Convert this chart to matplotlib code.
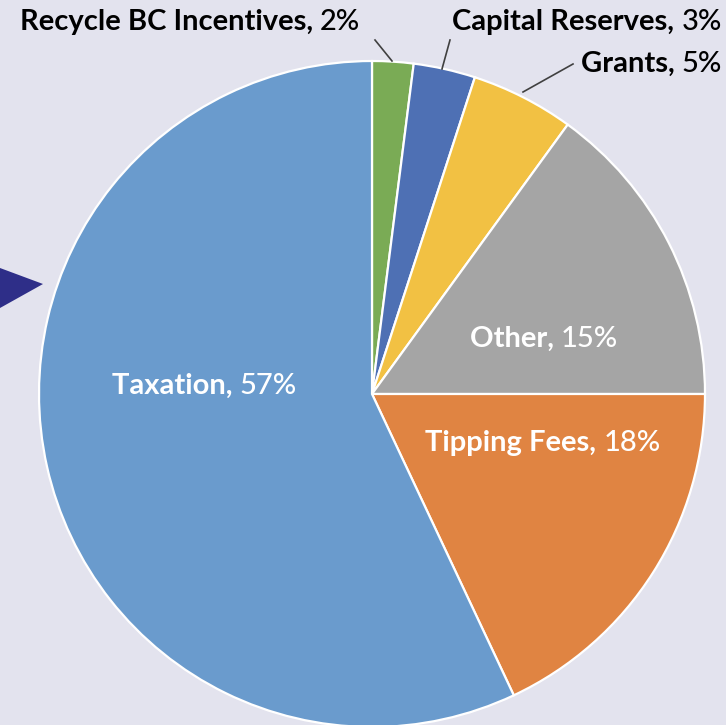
import matplotlib
matplotlib.use("Agg")
import matplotlib.pyplot as plt
from matplotlib.patches import Polygon

# funding sources, clockwise from 12 o'clock
categories = ["Recycle BC Incentives", "Capital Reserves", "Grants", "Other", "Tipping Fees", "Taxation"]
shares = [2, 3, 5, 15, 18, 57]
colors = ["#7aab55", "#4e70b4", "#f2c143", "#a5a5a5", "#e08442", "#6a9bcd"]

bg = "#e3e3ee"
plt.rcParams['font.family'] = ['Lato', 'DejaVu Sans']

fig = plt.figure(figsize=(7.26, 7.25), dpi=100, facecolor=bg)
ax = fig.add_axes([0, 0, 1, 1])
ax.set_facecolor(bg)

H = 725
cx, cy, r = 372, H - 394, 333
ax.pie(shares, colors=colors, startangle=90, counterclock=False,
       center=(cx, cy), radius=r, frame=True,
       wedgeprops=dict(edgecolor="white", linewidth=1.6))
ax.set_xlim(0, 726)
ax.set_ylim(0, H)
ax.set_aspect("equal")
ax.axis("off")

renderer = fig.canvas.get_renderer()
fs = 21


def label(x, y, name, value, color, ha="center"):
    # bold category name followed by a lighter percentage
    t1 = ax.text(0, H - y, name + ", ", color=color, fontsize=fs, fontweight="bold", va="center")
    t2 = ax.text(0, H - y, f"{value}%", color=color, fontsize=fs, fontweight="medium", va="center")
    w1 = t1.get_window_extent(renderer).width
    w2 = t2.get_window_extent(renderer).width
    total = w1 + w2
    left = x - total / 2 if ha == "center" else x - total
    t1.set_x(left)
    t2.set_x(left + w1)


label(544, 339, categories[3], shares[3], "white")
label(543, 443, categories[4], shares[4], "white")
label(204, 386, categories[5], shares[5], "white")

label(190, 22, categories[0], shares[0], "black")
label(722, 22, categories[1], shares[1], "black", ha="right")
label(722, 64, categories[2], shares[2], "black", ha="right")

ax.plot([375, 392], [H - 40, H - 61], color="#404040", lw=1.2)
ax.plot([450, 442], [H - 40, H - 69], color="#404040", lw=1.2)
ax.plot([573, 523], [H - 64, H - 92], color="#404040", lw=1.2)

# arrow marker at the left edge
ax.add_patch(Polygon([[0, H - 268], [43, H - 284], [0, H - 308]], closed=True,
                     facecolor="#2e2e88", edgecolor="none"))

fig.savefig("out.png", dpi=100, facecolor=bg)
